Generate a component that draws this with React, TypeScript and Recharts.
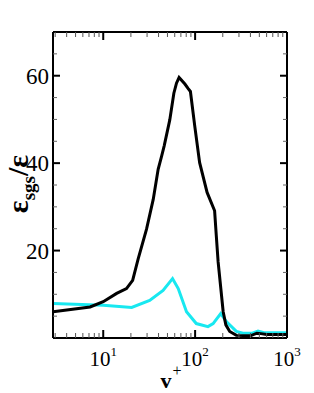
import React from 'react';
import { LineChart, Line, XAxis, YAxis } from 'recharts';

// wall-normal distance y+ (log axis) and dissipation ratio
const blackX = [2.84, 7.2, 10, 14, 17.9, 20.9, 24, 29.6, 35, 39.6, 43.2, 46, 53, 58.7, 62.7, 66.9, 77.4, 83.7, 88.9, 99.2, 112, 135, 163, 170, 178, 202, 216, 238, 281, 400, 470, 520, 600, 1000];
const blackY = [6.0, 7.1, 8.3, 10.2, 11.3, 13.2, 18.1, 24.9, 31.7, 38.6, 41.6, 43.9, 49.9, 56.0, 58.3, 59.6, 58.1, 57.1, 56.4, 48.4, 40.1, 33.3, 29.1, 23.4, 17.4, 6.0, 3.0, 1.5, 0.6, 0.5, 1.1, 1.0, 0.8, 0.8];

const cyanX = [2.84, 10, 20.4, 32, 44.8, 56.8, 65.5, 80.6, 103, 138, 157, 190, 220, 281, 331, 420, 484, 560, 1000];
const cyanY = [7.9, 7.5, 7.0, 8.6, 10.9, 13.6, 11.3, 6.0, 3.3, 2.6, 3.3, 5.6, 3.7, 1.5, 1.1, 1.1, 1.6, 1.2, 1.2];

const xMajor = [10, 100, 1000];
const xMinor = [3, 4, 5, 6, 7, 8, 9, 20, 30, 40, 50, 60, 70, 80, 90, 200, 300, 400, 500, 600, 700, 800, 900];
const xTickLabels = ['1', '2', '3'];
const yMajor = [20, 40, 60];
const yMinor = [5, 10, 15, 25, 30, 35, 45, 50, 55, 65];

const blackData = blackX.map((x, i) => ({ x, y: blackY[i] }));
const cyanData = cyanX.map((x, i) => ({ x, y: cyanY[i] }));
const xTicks = [...xMinor, ...xMajor].sort((a, b) => a - b);
const yTicks = [...yMinor, ...yMajor].sort((a, b) => a - b);

const FONT = '"Liberation Serif", "Times New Roman", serif';

const BottomTick = (props: any) => {
    const { x, y, payload } = props;
    const idx = xMajor.indexOf(payload.value);
    const major = idx >= 0;
    return (
        <g>
            <line x1={x} x2={x} y1={y} y2={y - (major ? 8 : 5)} stroke={major ? '#000' : '#555'} strokeWidth={major ? 2 : 1} />
            {major && (
                <text x={x} y={y + 28} textAnchor="middle" fontFamily={FONT} fontSize={21} fill="#000">
                    10<tspan dy={-10} fontSize={13}>{xTickLabels[idx]}</tspan>
                </text>
            )}
        </g>
    );
};

const TopTick = (props: any) => {
    const { x, y, payload } = props;
    const major = xMajor.includes(payload.value);
    return <line x1={x} x2={x} y1={y} y2={y + (major ? 8 : 5)} stroke={major ? '#000' : '#555'} strokeWidth={major ? 2 : 1} />;
};

const LeftTick = (props: any) => {
    const { x, y, payload } = props;
    const major = yMajor.includes(payload.value);
    return (
        <g>
            <line x1={x} x2={x + (major ? 7 : 4)} y1={y} y2={y} stroke={major ? '#000' : '#666'} strokeWidth={major ? 2 : 1} />
            {major && (
                <text x={x - 4} y={y + 8} textAnchor="end" fontFamily={FONT} fontSize={23} fill="#000">
                    {payload.value}
                </text>
            )}
        </g>
    );
};

const RightTick = (props: any) => {
    const { x, y, payload } = props;
    const major = yMajor.includes(payload.value);
    return <line x1={x} x2={x - (major ? 7 : 4)} y1={y} y2={y} stroke={major ? '#000' : '#666'} strokeWidth={major ? 2 : 1} />;
};

export default function App() {
    return (
        <div style={{ position: 'absolute', left: 0, top: 0, width: 314, height: 393, background: '#fff' }}>
            <LineChart width={314} height={393} margin={{ top: 31, right: 26, left: 0, bottom: 0 }}>
                <XAxis
                    xAxisId="bottom"
                    dataKey="x"
                    type="number"
                    scale="log"
                    domain={[2.84, 1000]}
                    allowDataOverflow
                    ticks={xTicks}
                    interval={0}
                    height={55}
                    tickSize={0}
                    tickMargin={0}
                    tickLine={false}
                    axisLine={{ stroke: '#000', strokeWidth: 2 }}
                    tick={<BottomTick />}
                />
                <XAxis
                    xAxisId="top"
                    orientation="top"
                    dataKey="x"
                    type="number"
                    scale="log"
                    domain={[2.84, 1000]}
                    allowDataOverflow
                    ticks={xTicks}
                    interval={0}
                    height={1}
                    tickSize={0}
                    tickMargin={0}
                    tickLine={false}
                    axisLine={{ stroke: '#000', strokeWidth: 2 }}
                    tick={<TopTick />}
                />
                <YAxis
                    yAxisId="left"
                    type="number"
                    domain={[0, 70]}
                    allowDataOverflow
                    ticks={yTicks}
                    interval={0}
                    width={53}
                    tickSize={0}
                    tickMargin={0}
                    tickLine={false}
                    axisLine={{ stroke: '#000', strokeWidth: 2 }}
                    tick={<LeftTick />}
                />
                <YAxis
                    yAxisId="right"
                    orientation="right"
                    type="number"
                    domain={[0, 70]}
                    allowDataOverflow
                    ticks={yTicks}
                    interval={0}
                    width={1}
                    tickSize={0}
                    tickMargin={0}
                    tickLine={false}
                    axisLine={{ stroke: '#000', strokeWidth: 2 }}
                    tick={<RightTick />}
                />
                {/* invisible copy so the mirrored frame axes get drawn */}
                <Line
                    data={blackData}
                    xAxisId="top"
                    yAxisId="right"
                    dataKey="y"
                    type="linear"
                    stroke="none"
                    dot={false}
                    activeDot={false}
                    isAnimationActive={false}
                />
                <Line
                    data={cyanData}
                    xAxisId="bottom"
                    yAxisId="left"
                    dataKey="y"
                    type="linear"
                    stroke="#18e8f0"
                    strokeWidth={3}
                    dot={false}
                    isAnimationActive={false}
                />
                <Line
                    data={blackData}
                    xAxisId="bottom"
                    yAxisId="left"
                    dataKey="y"
                    type="linear"
                    stroke="#000"
                    strokeWidth={3}
                    dot={false}
                    isAnimationActive={false}
                />
                <text transform="translate(28,184) rotate(-90)" textAnchor="middle" fontFamily={FONT} fontWeight="bold" fontSize={30} fill="#000">
                    ε<tspan dy={7} fontSize={19}>sgs</tspan>
                    <tspan dy={-7}>/ε</tspan>
                </text>
                <text x={166} y={388} textAnchor="middle" fontFamily={FONT} fontWeight="bold" fontSize={22} fill="#000">
                    v
                </text>
                <text x={177} y={376} textAnchor="middle" fontFamily={FONT} fontSize={16} fill="#000">
                    +
                </text>
            </LineChart>
        </div>
    );
}
